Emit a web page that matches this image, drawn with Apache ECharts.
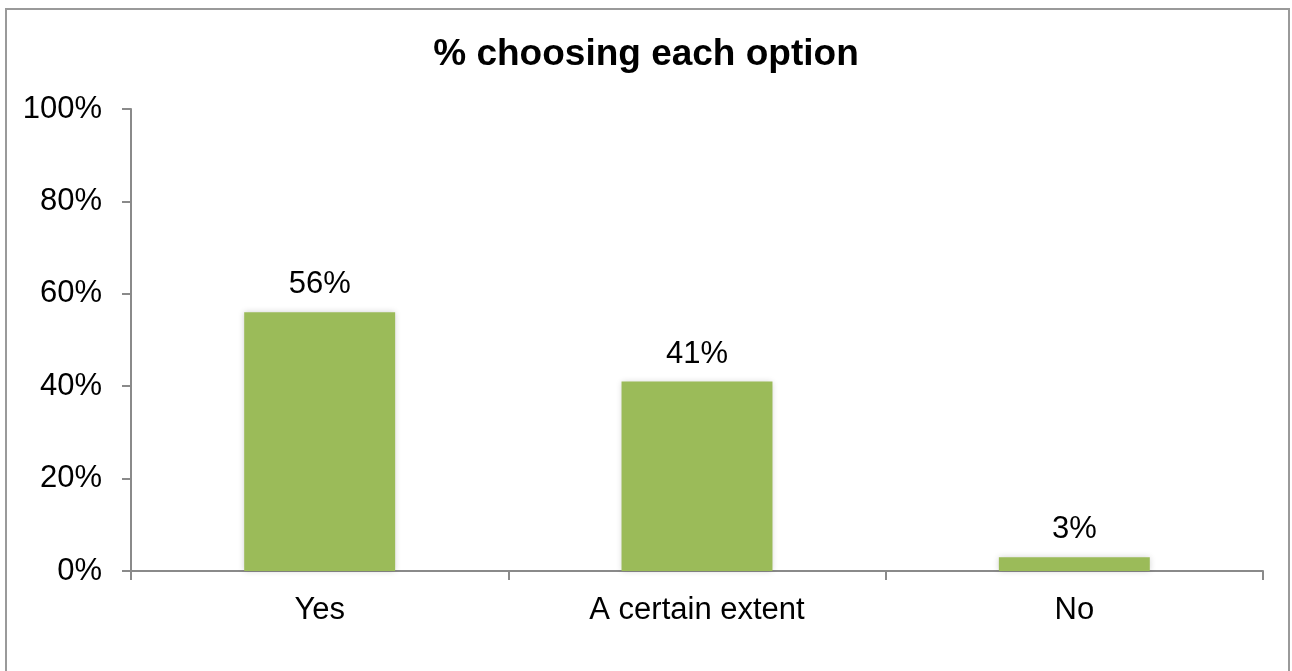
<!DOCTYPE html>
<html>
<head>
<meta charset="utf-8">
<script src="https://cdn.jsdelivr.net/npm/echarts@6/dist/echarts.min.js"></script>
<style>
  html, body { margin: 0; padding: 0; background: #fff; }
  #chart { width: 1292px; height: 671px; }
</style>
</head>
<body>
<div id="chart"></div>
<script>
// Survey answers and share of respondents choosing each one
const categories = ['Yes', 'A certain extent', 'No'];
const shares = [56, 41, 3];
const yTicks = { min: 0, max: 100, step: 20 };
const titleText = '% choosing each option';

const FONT = '"Liberation Sans", Arial, sans-serif';
const AXIS_GRAY = '#8a8a8a';

const chart = echarts.init(document.getElementById('chart'), null, { renderer: 'canvas' });

chart.setOption({
  backgroundColor: '#ffffff',
  animation: false,
  title: {
    text: titleText,
    left: 'center',
    top: 31,
    textStyle: { fontFamily: FONT, fontSize: 37, fontWeight: 'bold', color: '#000' }
  },
  graphic: [{
    type: 'rect',
    shape: { x: 6, y: 9, width: 1283, height: 700 },
    style: { fill: 'none', stroke: '#9a9a9a', lineWidth: 2 },
    silent: true
  }],
  grid: { left: 131, right: 29, top: 109, bottom: 100, containLabel: false },
  xAxis: {
    type: 'category',
    data: categories,
    boundaryGap: true,
    axisLine: { show: true, lineStyle: { color: AXIS_GRAY, width: 2 } },
    axisTick: { show: true, length: 9, lineStyle: { color: AXIS_GRAY, width: 2 } },
    axisLabel: { fontFamily: FONT, fontSize: 31, color: '#000', margin: 24 },
    splitLine: { show: false }
  },
  yAxis: {
    type: 'value',
    min: yTicks.min,
    max: yTicks.max,
    interval: yTicks.step,
    axisLine: { show: true, lineStyle: { color: AXIS_GRAY, width: 2 } },
    axisTick: { show: true, length: 9, lineStyle: { color: AXIS_GRAY, width: 2 } },
    axisLabel: { fontFamily: FONT, fontSize: 31, color: '#000', margin: 29, formatter: '{value}%' },
    splitLine: { show: false }
  },
  series: [{
    type: 'bar',
    data: shares,
    barWidth: '40%',
    itemStyle: {
      color: '#9bbb59',
      shadowColor: 'rgba(0,0,0,0.18)',
      shadowBlur: 6
    },
    label: {
      show: true,
      position: 'top',
      distance: 12,
      fontFamily: FONT,
      fontSize: 31,
      color: '#000',
      formatter: '{c}%'
    }
  }]
});
</script>
</body>
</html>
